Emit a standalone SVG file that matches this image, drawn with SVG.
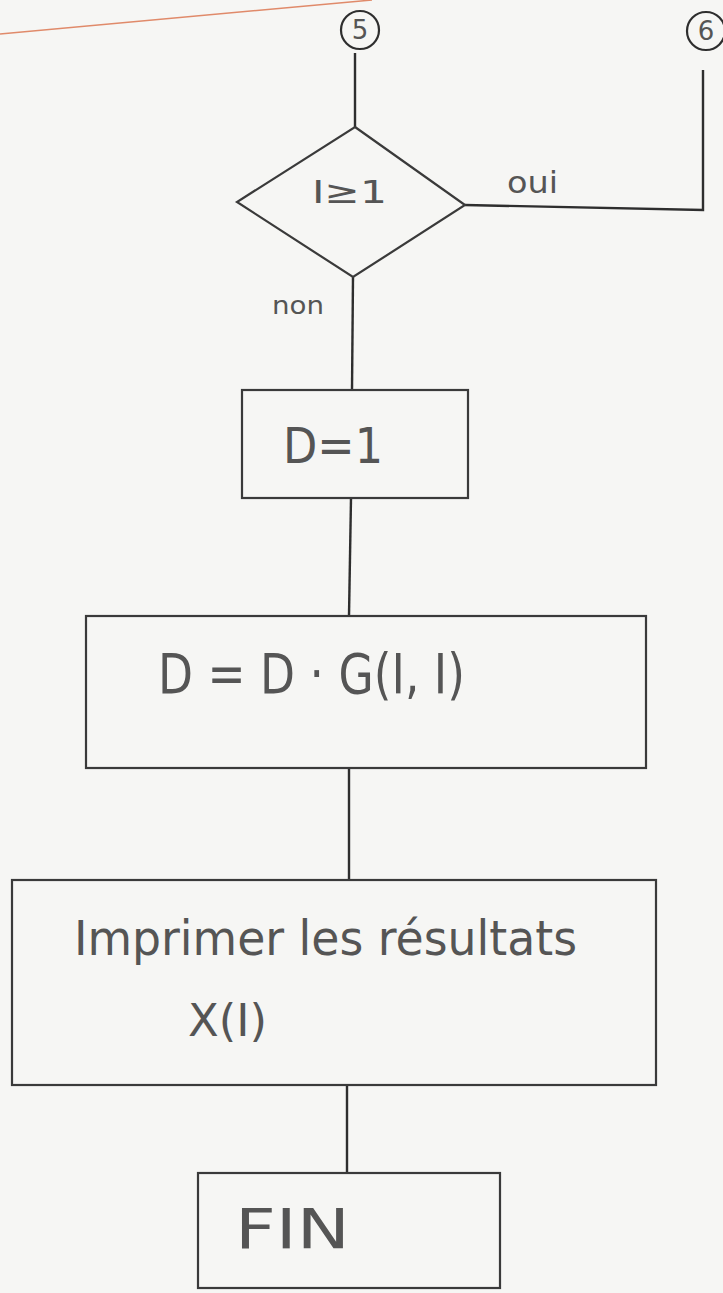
<svg xmlns="http://www.w3.org/2000/svg" width="723" height="1293" viewBox="0 0 723 1293">
<style>
.bg{fill:#f6f6f4}
.shape{fill:none;stroke:#3a3a3a;stroke-width:2.2}
.circ{fill:none;stroke:#2e2e2e;stroke-width:2.2}
.conn{fill:none;stroke:#2e2e2e;stroke-width:2.4}
.t{font-family:"DejaVu Sans","Liberation Sans",sans-serif;fill:#555555}
.edge{stroke:#e08a6a;stroke-width:1.5;fill:none}
</style>
<rect class="bg" x="0" y="0" width="723" height="1293"/>
<line class="edge" x1="0" y1="34" x2="372" y2="0"/>
<g id="connectors">
<line class="conn" x1="355" y1="53" x2="355" y2="127"/>
<polyline class="conn" points="465,205 703,210 703,70"/>
<line class="conn" x1="353" y1="277" x2="352" y2="390"/>
<line class="conn" x1="351" y1="498" x2="349" y2="616"/>
<line class="conn" x1="349" y1="768" x2="349" y2="880"/>
<line class="conn" x1="347" y1="1085" x2="347" y2="1173"/>
</g>
<g id="c5">
<circle class="circ" cx="360" cy="30" r="19"/>
<text class="t" x="360" y="39" font-size="26" text-anchor="middle">5</text>
</g>
<g id="c6">
<circle class="circ" cx="706" cy="31" r="19"/>
<text class="t" x="706" y="40" font-size="26" text-anchor="middle">6</text>
</g>
<g id="decision">
<polygon class="shape" points="355,127 465,205 353,277 237,202"/>
<text class="t" x="312" y="203" font-size="32" textLength="75" lengthAdjust="spacingAndGlyphs">I≥1</text>
<text class="t" x="507" y="193" font-size="30" textLength="51" lengthAdjust="spacingAndGlyphs">oui</text>
<text class="t" x="272" y="314" font-size="24" textLength="52" lengthAdjust="spacingAndGlyphs">non</text>
</g>
<g id="d1">
<rect class="shape" x="242" y="390" width="226" height="108"/>
<text class="t" x="283" y="463" font-size="50" textLength="100" lengthAdjust="spacingAndGlyphs">D=1</text>
</g>
<g id="dd">
<rect class="shape" x="86" y="616" width="560" height="152"/>
<text class="t" x="158" y="693" font-size="56" textLength="307" lengthAdjust="spacingAndGlyphs">D = D · G(I, I)</text>
</g>
<g id="print">
<rect class="shape" x="12" y="880" width="644" height="205"/>
<text class="t" x="74" y="955" font-size="48" textLength="503" lengthAdjust="spacingAndGlyphs">Imprimer  les résultats</text>
<text class="t" x="188" y="1036" font-size="44" textLength="79" lengthAdjust="spacingAndGlyphs">X(I)</text>
</g>
<g id="fin">
<rect class="shape" x="198" y="1173" width="302" height="115"/>
<text class="t" x="235" y="1248" font-size="56" textLength="115" lengthAdjust="spacingAndGlyphs">FIN</text>
</g>
</svg>
